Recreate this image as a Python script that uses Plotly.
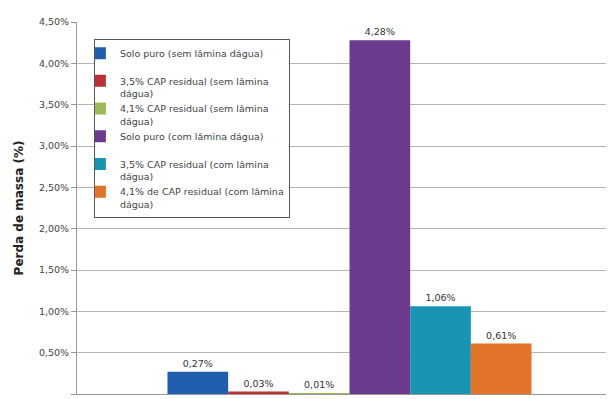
import plotly.graph_objects as go

category = ["Ensaio"]
series_names = [
    "Solo puro (sem lâmina dágua)<br> ",
    "3,5% CAP residual (sem lâmina<br>dágua)",
    "4,1% CAP residual (sem lâmina<br>dágua)",
    "Solo puro (com lâmina dágua)<br> ",
    "3,5% CAP residual (com lâmina<br>dágua)",
    "4,1% de CAP residual (com lâmina<br>dágua)",
]
values = [0.0027, 0.0003, 0.0001, 0.0428, 0.0106, 0.0061]
colors = ["#1f5fae", "#b83236", "#9bbb59", "#6b3a8c", "#1b93b3", "#e2742a"]
tick_vals = [0, 0.005, 0.01, 0.015, 0.02, 0.025, 0.03, 0.035, 0.04, 0.045]

FONT = "DejaVu Sans"

fig = go.Figure()
for name, v, c in zip(series_names, values, colors):
    fig.add_trace(go.Bar(
        x=category, y=[v], name=name, marker=dict(color=c, line=dict(width=0)),
        texttemplate="%{y:.2%}", textposition="outside", cliponaxis=False,
        textfont=dict(size=9.5, color="#333333", family=FONT),
    ))

# The page body adds an 8px offset; the plot area is placed to match.
fig.update_layout(
    width=614, height=391,
    margin=dict(l=69, r=0, t=14, b=5),
    paper_bgcolor="white", plot_bgcolor="white",
    separators=", ",
    barmode="group", bargap=0.332, bargroupgap=0,
    font=dict(family=FONT, size=10, color="#333333"),
    showlegend=True,
    legend=dict(
        x=0.031, y=0.953, xanchor="left", yanchor="top",
        bgcolor="white", bordercolor="#555555", borderwidth=1,
        font=dict(size=9.5, color="#444444", family=FONT),
        valign="top", tracegroupgap=0, itemwidth=30, indentation=-15,
    ),
    xaxis=dict(showticklabels=False, showline=True, linecolor="#999999",
               ticks="", showgrid=False, zeroline=False),
    yaxis=dict(range=[0, 0.045], tickvals=tick_vals, tickformat=".2%",
               showline=True, linecolor="#999999", ticks="outside",
               ticklen=5, tickcolor="#999999", gridcolor="#b5b5b5",
               zeroline=False,
               tickfont=dict(size=9.5, color="#444444", family=FONT),
               title=dict(text="<b>Perda de massa (%)</b>",
                          font=dict(size=12, color="#222222", family=FONT),
                          standoff=12)),
)

fig.write_html("out.html")
